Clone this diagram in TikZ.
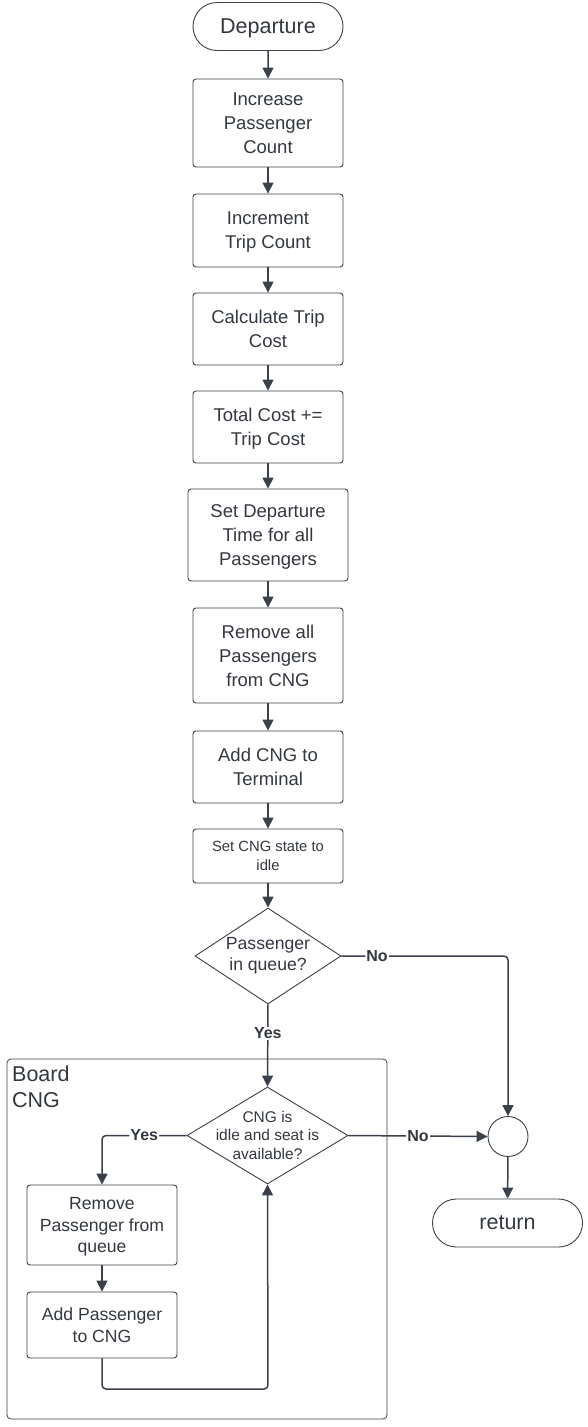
\documentclass[tikz,border=0pt]{standalone}
\usepackage{fontspec}
\setmainfont{Liberation Sans}
\usetikzlibrary{shapes.geometric,shapes.misc,arrows.meta}
\definecolor{lc}{RGB}{58,65,74}
\definecolor{tc}{RGB}{51,56,64}
\begin{document}
\begin{tikzpicture}[x=1pt,y=-1pt,
  box/.style={draw=lc, line width=0.9pt, rounded corners=3pt, align=center, text=tc,
    minimum width=150, font=\fontsize{18.5}{24}\selectfont, inner sep=0pt, text depth=0pt},
  term/.style={draw=lc, line width=0.9pt, rounded rectangle, minimum width=150, minimum height=48,
    inner xsep=0pt, text=tc, font=\fontsize{21.5}{26}\selectfont, text depth=0pt},
  dia/.style={draw=lc, line width=0.9pt, diamond, inner sep=0pt},
  dtext/.style={align=center, text=tc, inner sep=0pt},
  conn/.style={draw=lc, line width=1.5pt, -{Triangle[length=11pt,width=11pt]}},
  lab/.style={fill=white, text=tc, inner sep=1pt, font=\bfseries\fontsize{16}{18}\selectfont}
]
\useasboundingbox (0,0) rectangle (587,1427);

% container
\node[draw=lc, line width=0.8pt, rounded corners=4pt, minimum width=380, minimum height=360, inner sep=0pt] (cont) at (197,1239) {};
\node[anchor=north west, align=left, text=tc, inner sep=0pt, font=\fontsize{21.5}{26}\selectfont] (contt) at (12,1066) {Board\\CNG};

\node[term] (dep) at (268,26.5) {Departure};
\node[box, minimum height=88] (inc) at (268,123) {Increase\\Passenger\\Count};
\node[box, minimum height=73] (trip) at (268,230.5) {Increment\\Trip Count};
\node[box, minimum height=72] (calc) at (268,329) {Calculate Trip\\Cost};
\node[box, minimum height=72] (tot) at (268,427) {Total Cost +=\\Trip Cost};
\node[box, minimum height=92, minimum width=160] (setd) at (268,535) {Set Departure\\Time for all\\Passengers};
\node[box, minimum height=95] (remall) at (268,655.5) {Remove all\\Passengers\\from CNG};
\node[box, minimum height=72] (addt) at (268,767) {Add CNG to\\Terminal};
\node[box, minimum height=54, font=\fontsize{14.8}{19}\selectfont] (idle) at (268,856) {Set CNG state to\\idle};

\node[dia, minimum width=146, minimum height=96] (d1) at (268,956) {};
\node[dtext, font=\fontsize{17.6}{21}\selectfont] (d1t) at (268,956) {Passenger\\in queue?};

\node[dia, minimum width=161, minimum height=97] (d2) at (267.5,1135.5) {};
\node[dtext, font=\fontsize{15.5}{18.5}\selectfont] (d2t) at (267.5,1135) {CNG is\\idle and seat is\\available?};

\node[box, minimum height=80, font=\fontsize{17.6}{21.5}\selectfont] (rem) at (102,1225) {Remove\\Passenger from\\queue};
\node[box, minimum height=66, font=\fontsize{17.6}{21.5}\selectfont] (add) at (102,1325) {Add Passenger\\to CNG};

\node[draw=lc, line width=0.9pt, circle, minimum size=40, inner sep=0pt] (circ) at (508,1136.5) {};
\node[term] (ret) at (507.5,1223) {return};

\coordinate (lp) at (268,1389);

\draw[conn] (dep) -- (inc);
\draw[conn] (inc) -- (trip);
\draw[conn] (trip) -- (calc);
\draw[conn] (calc) -- (tot);
\draw[conn] (tot) -- (setd);
\draw[conn] (setd) -- (remall);
\draw[conn] (remall) -- (addt);
\draw[conn] (addt) -- (idle);
\draw[conn] (idle) -- (d1);
\draw[conn] (d1.south) -- (d2.north) node[lab, pos=0.35] {Yes};
\draw[conn, rounded corners=4pt] (d1.east) -| (circ.north) node[lab, pos=0.107] {No};
\draw[conn] (d2.east) -- (circ.west) node[lab, pos=0.5] {No};
\draw[conn, rounded corners=4pt] (d2.west) -| (rem.north) node[lab, pos=0.25] {Yes};
\draw[conn] (rem) -- (add);
\draw[conn, rounded corners=4pt] (add.south) |- (lp) -- (d2.south);
\draw[conn] (circ) -- (ret);
\end{tikzpicture}
\end{document}
